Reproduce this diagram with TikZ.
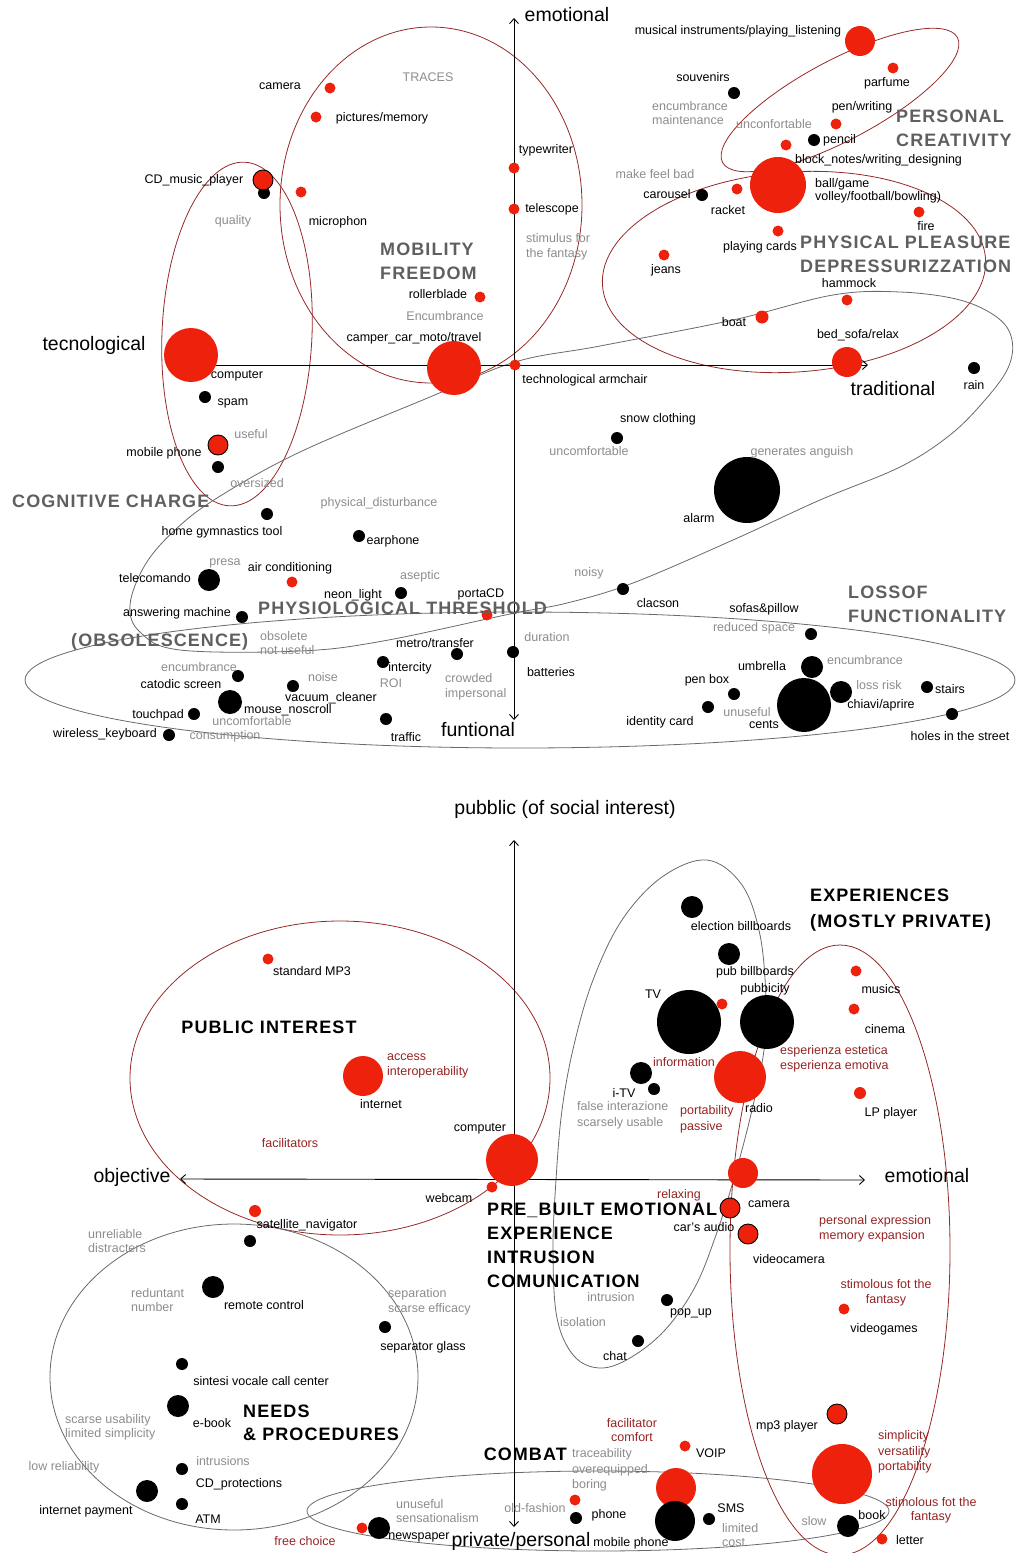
\documentclass[tikz,border=0pt]{standalone}
\usepackage{fontspec}
\setmainfont{Liberation Sans}
\newfontfamily\headfont[LetterSpace=6]{Liberation Sans}
\usetikzlibrary{arrows.meta}

\definecolor{dotred}{RGB}{238,34,12}
\definecolor{linered}{RGB}{150,40,40}
\definecolor{hintred}{RGB}{150,35,35}
\definecolor{notegray}{RGB}{140,140,140}
\definecolor{headgray}{RGB}{95,95,95}
\definecolor{ringgray}{RGB}{105,105,105}

\begin{document}
\begin{tikzpicture}[x=1pt, y=-1pt,
    rd/.style={circle, fill=dotred, inner sep=0pt, minimum size=#1},
    rd/.default=11pt,
    bk/.style={circle, fill=black, inner sep=0pt, minimum size=#1},
    bk/.default=12pt,
    ro/.style={circle, fill=dotred, draw=black, line width=0.9pt, inner sep=0pt, minimum size=#1},
    lbl/.style={inner sep=0pt, font=\fontsize{12.5}{14.5}\selectfont},
    nt/.style={lbl, text=notegray},
    hn/.style={lbl, text=hintred},
    hd/.style={inner sep=0pt, font=\headfont\bfseries\fontsize{18}{24}\selectfont, text=headgray},
    hdb/.style={hd, text=black},
    ax/.style={inner sep=0pt, font=\fontsize{19.5}{22}\selectfont},
    axisline/.style={line width=0.9pt, {Straight Barb[length=5pt,width=9pt]}-{Straight Barb[length=5pt,width=9pt]}},
    zone/.style={linered, line width=0.8pt},
    grayring/.style={ringgray, line width=0.8pt}
  ]
  \useasboundingbox (0,0) rectangle (1017,1553);

  % ---------------- upper map: emotional / funtional ----------------
  % zones
  \draw[zone, rotate around={28:(840,100)}] (840,100) ellipse (133pt and 40pt);
  \draw[zone, rotate around={4:(794,272)}] (794,272) ellipse (192pt and 100pt);
  \draw[zone] (431,205) ellipse (151pt and 178pt);
  \draw[zone, rotate around={-2.5:(237,334)}] (237,334) ellipse (75pt and 172pt);
  \draw[grayring] plot[smooth cycle, tension=0.6] coordinates {
    (217,498) (300,452) (430,397) (515,362) (600,346) (733,320) (833,295)
    (900,292) (960,300) (998,318) (1012,340) (1008,368) (985,400) (950,435)
    (900,467) (820,500) (733,540) (633,583) (567,603) (510,614) (383,641)
    (300,651) (180,650) (140,632) (130,605) (145,565) (175,530)};
  \draw[grayring] (520,680) ellipse (495pt and 68pt);

  % axes
  \coordinate (t-top) at (514,18);
  \coordinate (t-bot) at (514,720);
  \coordinate (t-left) at (190,365);
  \coordinate (t-right) at (868,365);
  \draw[axisline] (t-bot) -- (t-top);
  \draw[axisline] (t-left) -- (t-right);
  \node[ax] (emo-l) at (567,15) {emotional};
  \node[ax] (tec-l) at (94,345) {tecnological};
  \node[ax] (tra-l) at (893,389) {traditional};
  \node[ax] (fun-l) at (478,730) {funtional};

  % personal creativity
  \node[rd=30pt] (musical) at (860,41) {};
  \node[lbl] (musical-l) at (738,31) {musical instruments/playing\_listening};
  \node[rd] (parfume) at (893,68) {};
  \node[lbl] (parfume-l) at (887,83) {parfume};
  \node[bk] (souvenirs) at (734,93) {};
  \node[lbl] (souvenirs-l) at (703,77) {souvenirs};
  \node[nt, align=left, anchor=west] (encumb1) at (652,113) {encumbrance\\maintenance};
  \node[nt] (unconf) at (774,124) {unconfortable};
  \node[rd] (pen) at (836,124) {};
  \node[lbl] (pen-l) at (862,107) {pen/writing};
  \node[bk] (pencil) at (814,140) {};
  \node[lbl, anchor=west] (pencil-l) at (823,140) {pencil};
  \node[rd] (notes) at (786,145) {};
  \node[lbl, anchor=west] (notes-l) at (795,160) {block\_notes/writing\_designing};
  \node[hd, align=left, anchor=west] (creativity) at (896,128) {PERSONAL\\CREATIVITY};

  % physical pleasure
  \node[rd=56pt] (ball) at (778,185) {};
  \node[lbl, align=left, anchor=west, font=\fontsize{12.5}{12.5}\selectfont] (ball-l) at (815,191) {ball/game\\volley/football/bowling)};
  \node[nt] (feelbad) at (655,174) {make feel bad};
  \node[bk] (carousel) at (702,195) {};
  \node[lbl] (carousel-l) at (667,194) {carousel};
  \node[rd] (racket) at (737,189) {};
  \node[lbl] (racket-l) at (728,210) {racket};
  \node[rd] (fire) at (919,212) {};
  \node[lbl] (fire-l) at (926,226) {fire};
  \node[rd] (cards) at (778,231) {};
  \node[lbl] (cards-l) at (760,247) {playing cards};
  \node[rd] (jeans) at (664,255) {};
  \node[lbl] (jeans-l) at (666,270) {jeans};
  \node[rd] (hammock) at (847,300) {};
  \node[lbl] (hammock-l) at (849,283) {hammock};
  \node[rd=13pt] (boat) at (762,317) {};
  \node[lbl] (boat-l) at (734,322) {boat};
  \node[rd=30pt] (bed) at (847,362) {};
  \node[lbl] (bed-l) at (858,335) {bed\_sofa/relax};
  \node[hd, align=left, anchor=west] (pleasure) at (800,254) {PHYSICAL PLEASURE\\DEPRESSURIZZATION};
  \node[bk] (rain) at (974,368) {};
  \node[lbl] (rain-l) at (974,385) {rain};

  % traces, mobility
  \node[rd] (typewriter) at (514,168) {};
  \node[lbl] (typewriter-l) at (546,150) {typewriter};
  \node[rd] (telescope) at (514,209) {};
  \node[lbl] (telescope-l) at (552,209) {telescope};
  \node[nt, align=left, anchor=west] (stimulus) at (526,247) {stimulus for\\the fantasy};
  \node[rd] (camera) at (330,88) {};
  \node[lbl] (camera-l) at (280,86) {camera};
  \node[rd] (pictures) at (316,117) {};
  \node[lbl] (pictures-l) at (382,118) {pictures/memory};
  \node[nt] (traces) at (428,77) {TRACES};
  \node[rd] (microphon) at (301,192) {};
  \node[lbl] (microphon-l) at (338,222) {microphon};
  \node[hd, align=left, anchor=west] (mobility) at (380,261) {MOBILITY\\FREEDOM};
  \node[rd] (roller) at (480,297) {};
  \node[lbl] (roller-l) at (438,294) {rollerblade};
  \node[nt] (encumb2) at (445,316) {Encumbrance};
  \node[rd=54pt] (camper) at (454,368) {};
  \node[lbl] (camper-l) at (414,338) {camper\_car\_moto/travel};
  \node[rd] (armchair) at (515,365) {};
  \node[lbl] (armchair-l) at (585,380) {technological armchair};

  % technological side, cognitive charge
  \node[bk] (cdplayer2) at (264,193) {};
  \node[ro=20pt] (cdplayer) at (263,180) {};
  \node[lbl] (cdplayer-l) at (194,180) {CD\_music\_player};
  \node[nt] (quality) at (233,221) {quality};
  \node[rd=54pt] (computer) at (191,355) {};
  \node[lbl] (computer-l) at (237,376) {computer};
  \node[bk] (spam) at (205,397) {};
  \node[lbl] (spam-l) at (233,403) {spam};
  \node[ro=20pt] (mobile) at (218,445) {};
  \node[bk] (mobile2) at (218,467) {};
  \node[lbl] (mobile-l) at (164,453) {mobile phone};
  \node[nt] (useful) at (251,434) {useful};
  \node[nt] (oversized) at (257,483) {oversized};
  \node[hd, anchor=west] (cognitive) at (12,501) {COGNITIVE CHARGE};

  % physiological threshold
  \node[nt] (disturb) at (379,503) {physical\_disturbance};
  \node[bk] (gym) at (267,514) {};
  \node[lbl] (gym-l) at (222,532) {home gymnastics tool};
  \node[bk] (earphone) at (359,536) {};
  \node[lbl] (earphone-l) at (393,541) {earphone};
  \node[nt] (presa) at (225,563) {presa};
  \node[rd] (aircond) at (292,582) {};
  \node[lbl] (aircond-l) at (290,568) {air conditioning};
  \node[bk=22pt] (telecom) at (209,580) {};
  \node[lbl] (telecom-l) at (155,578) {telecomando};
  \node[nt] (aseptic) at (420,576) {aseptic};
  \node[bk] (neon) at (401,593) {};
  \node[lbl] (neon-l) at (353,595) {neon\_light};
  \node[rd] (portacd) at (487,615) {};
  \node[lbl] (portacd-l) at (481,594) {portaCD};
  \node[bk] (answering) at (242,617) {};
  \node[lbl] (answering-l) at (177,613) {answering machine};
  \node[hd, anchor=west] (threshold) at (258,608) {PHYSIOLOGICAL THRESHOLD};
  \node[nt] (noisy) at (589,573) {noisy};
  \node[bk] (clacson) at (623,589) {};
  \node[lbl] (clacson-l) at (658,603) {clacson};
  \node[bk] (snow) at (617,438) {};
  \node[lbl] (snow-l) at (658,419) {snow clothing};
  \node[nt] (uncomf1) at (589,451) {uncomfortable};
  \node[bk=66pt] (alarm) at (747,490) {};
  \node[lbl] (alarm-l) at (699,518) {alarm};
  \node[nt] (anguish) at (802,452) {generates anguish};

  % obsolescence, loss of functionality
  \node[hd, anchor=west] (obsolescence) at (71,642) {(OBSOLESCENCE)};
  \node[nt, align=left, anchor=west] (obsolete) at (260,643) {obsolete\\not useful};
  \node[bk] (metro) at (457,654) {};
  \node[lbl] (metro-l) at (435,643) {metro/transfer};
  \node[bk] (intercity) at (383,662) {};
  \node[lbl] (intercity-l) at (410,668) {intercity};
  \node[nt] (roi) at (391,683) {ROI};
  \node[nt, align=left, anchor=west] (crowded) at (445,687) {crowded\\impersonal};
  \node[nt] (encumb3) at (199,667) {encumbrance};
  \node[bk] (catodic) at (238,676) {};
  \node[lbl] (catodic-l) at (181,684) {catodic screen};
  \node[nt] (noise) at (323,677) {noise};
  \node[bk] (vacuum) at (293,686) {};
  \node[lbl] (vacuum-l) at (331,698) {vacuum\_cleaner};
  \node[bk=24pt] (mouse) at (230,702) {};
  \node[lbl] (mouse-l) at (288,710) {mouse\_noscroll};
  \node[bk] (touchpad) at (194,714) {};
  \node[lbl] (touchpad-l) at (158,715) {touchpad};
  \node[nt] (uncomf2) at (252,721) {uncomfortable};
  \node[bk] (keyboard) at (169,735) {};
  \node[lbl] (keyboard-l) at (105,734) {wireless\_keyboard};
  \node[nt] (consumption) at (225,736) {consumption};
  \node[bk] (traffic) at (386,719) {};
  \node[lbl] (traffic-l) at (406,737) {traffic};
  \node[nt] (duration) at (547,637) {duration};
  \node[bk] (batteries) at (513,652) {};
  \node[lbl] (batteries-l) at (551,672) {batteries};
  \node[hd, align=left, anchor=west] (loss) at (848,604) {LOSSOF\\FUNCTIONALITY};
  \node[bk] (sofas) at (811,634) {};
  \node[lbl] (sofas-l) at (764,609) {sofas\&pillow};
  \node[nt] (reduced) at (754,628) {reduced space};
  \node[bk=22pt] (umbrella) at (812,667) {};
  \node[lbl] (umbrella-l) at (762,666) {umbrella};
  \node[nt] (encumb4) at (865,660) {encumbrance};
  \node[bk] (penbox) at (734,694) {};
  \node[lbl] (penbox-l) at (707,680) {pen box};
  \node[bk=54pt] (cents) at (804,705) {};
  \node[lbl] (cents-l) at (764,725) {cents};
  \node[bk=22pt] (keys) at (841,692) {};
  \node[lbl] (keys-l) at (881,705) {chiavi/aprire};
  \node[nt] (lossrisk) at (879,685) {loss risk};
  \node[bk] (stairs) at (927,687) {};
  \node[lbl] (stairs-l) at (950,689) {stairs};
  \node[bk] (holes) at (952,714) {};
  \node[lbl] (holes-l) at (960,736) {holes in the street};
  \node[bk] (idcard) at (708,707) {};
  \node[lbl] (idcard-l) at (660,722) {identity card};
  \node[nt] (unuseful1) at (747,712) {unuseful};

  % ---------------- lower map: public / private ----------------
  % zones
  \draw[zone] (340,1078) ellipse (210pt and 157pt);
  \draw[grayring] (234,1377) ellipse (184pt and 153pt);
  \draw[grayring] plot[smooth cycle, tension=0.6] coordinates {
    (707,860) (742,885) (760,935) (766,1000) (764,1050) (752,1110) (735,1175)
    (716,1235) (695,1287) (665,1330) (630,1358) (600,1368) (574,1356)
    (557,1318) (553,1250) (556,1180) (562,1110) (574,1045) (593,980)
    (622,920) (662,877)};
  \draw[zone] (840,1250) ellipse (110pt and 305pt);
  \draw[grayring] (598,1511) ellipse (291pt and 40pt);

  % axes
  \coordinate (b-top) at (514,840);
  \coordinate (b-bot) at (514,1527);
  \coordinate (b-left) at (180,1179);
  \coordinate (b-right) at (865,1180);
  \draw[axisline] (b-bot) -- (b-top);
  \draw[axisline] (b-left) -- (b-right);
  \node[ax] (pub-l) at (565,809) {pubblic (of social interest)};
  \node[ax] (obj-l) at (132,1177) {objective};
  \node[ax] (emo2-l) at (927,1176) {emotional};
  \node[ax] (priv-l) at (521,1541) {private/personal};

  % public interest
  \node[rd] (mp3std) at (268,959) {};
  \node[lbl] (mp3std-l) at (312,971) {standard MP3};
  \node[hdb] (public) at (269,1027) {PUBLIC INTEREST};
  \node[rd=40pt] (internet) at (363,1076) {};
  \node[lbl] (internet-l) at (381,1104) {internet};
  \node[hn, align=left, anchor=west] (access) at (387,1066) {access\\interoperability};
  \node[hn] (facil) at (290,1143) {facilitators};
  \node[rd=52pt] (computer2) at (512,1160) {};
  \node[lbl] (computer2-l) at (480,1129) {computer};
  \node[rd] (webcam) at (492,1187) {};
  \node[lbl] (webcam-l) at (449,1198) {webcam};
  \node[rd=12pt] (satnav) at (255,1211) {};
  \node[lbl] (satnav-l) at (307,1225) {satellite\_navigator};

  % needs and procedures
  \node[nt, align=left, anchor=west] (unreliable) at (88,1241) {unreliable\\distracters};
  \node[bk] (satnav2) at (250,1241) {};
  \node[nt, align=left, anchor=west] (redundant) at (131,1300) {reduntant\\number};
  \node[bk=22pt] (remote) at (213,1287) {};
  \node[lbl] (remote-l) at (264,1305) {remote control};
  \node[nt, align=left, anchor=west] (separation) at (388,1302) {separation\\scarse efficacy};
  \node[bk] (glass) at (385,1327) {};
  \node[lbl] (glass-l) at (423,1347) {separator glass};
  \node[bk] (callcenter) at (182,1364) {};
  \node[lbl] (callcenter-l) at (261,1381) {sintesi vocale call center};
  \node[bk=22pt] (ebook) at (178,1406) {};
  \node[lbl] (ebook-l) at (212,1423) {e-book};
  \node[hdb, align=left, anchor=west, font=\headfont\bfseries\fontsize{18}{23}\selectfont] (needs) at (243,1423) {NEEDS\\\& PROCEDURES};
  \node[nt, align=left, anchor=west] (usability) at (65,1427) {scarse usability\\limited simplicity};
  \node[nt] (lowrel) at (64,1467) {low reliability};
  \node[nt] (intrusions) at (223,1461) {intrusions};
  \node[bk] (cdprot) at (182,1469) {};
  \node[lbl] (cdprot-l) at (239,1484) {CD\_protections};
  \node[bk=22pt] (payment) at (147,1491) {};
  \node[lbl] (payment-l) at (86,1511) {internet payment};
  \node[bk] (atm) at (182,1504) {};
  \node[lbl] (atm-l) at (208,1519) {ATM};
  \node[hn] (freechoice) at (305,1541) {free choice};

  % combat
  \node[rd] (news2) at (362,1528) {};
  \node[bk=22pt] (newspaper) at (379,1528) {};
  \node[lbl] (newspaper-l) at (419,1537) {newspaper};
  \node[nt, align=left, anchor=west] (sensational) at (396,1511) {unuseful\\sensationalism};
  \node[nt] (oldfashion) at (535,1508) {old-fashion};
  \node[rd] (phone2) at (575,1500) {};
  \node[bk] (phone) at (576,1518) {};
  \node[lbl] (phone-l) at (609,1515) {phone};
  \node[hdb, anchor=east] (combat) at (567,1454) {COMBAT};
  \node[nt, align=left, anchor=west, font=\fontsize{12.5}{15.5}\selectfont] (traceability) at (572,1470) {traceability\\overequipped\\boring};
  \node[hn, align=center] (facilitator) at (632,1430) {facilitator\\comfort};
  \node[rd] (voip) at (685,1446) {};
  \node[lbl] (voip-l) at (711,1453) {VOIP};
  \node[rd=40pt] (mobile3) at (676,1488) {};
  \node[bk=40pt] (mobilebk) at (675,1521) {};
  \node[lbl] (mobilebk-l) at (631,1543) {mobile phone};
  \node[bk] (sms) at (709,1519) {};
  \node[lbl] (sms-l) at (731,1508) {SMS};
  \node[nt, align=left, anchor=west] (cost) at (722,1535) {limited\\cost};

  % experiences
  \node[hdb, align=left, anchor=west, font=\headfont\bfseries\fontsize{18}{26}\selectfont] (experiences) at (810,910) {EXPERIENCES\\(MOSTLY PRIVATE)};
  \node[bk=22pt] (election) at (692,907) {};
  \node[lbl] (election-l) at (741,926) {election billboards};
  \node[bk=22pt] (pubbill) at (729,954) {};
  \node[lbl] (pubbill-l) at (755,972) {pub billboards};
  \node[lbl] (pubbicity-l) at (765,989) {pubbicity};
  \node[bk=64pt] (tv) at (689,1022) {};
  \node[lbl] (tv-l) at (653,994) {TV};
  \node[rd] (tvred) at (722,1004) {};
  \node[bk=54pt] (pubbicity) at (767,1022) {};
  \node[rd] (musics) at (856,971) {};
  \node[lbl] (musics-l) at (881,989) {musics};
  \node[rd] (cinema) at (854,1009) {};
  \node[lbl] (cinema-l) at (885,1029) {cinema};
  \node[hn, align=left, anchor=west] (estetica) at (780,1059) {esperienza estetica\\esperienza emotiva};
  \node[hn] (information) at (684,1062) {information};
  \node[rd=52pt] (radio) at (740,1077) {};
  \node[lbl] (radio-l) at (759,1108) {radio};
  \node[bk=22pt] (itv) at (641,1073) {};
  \node[bk] (itv2) at (654,1089) {};
  \node[lbl] (itv-l) at (624,1093) {i-TV};
  \node[nt, align=left, anchor=west, font=\fontsize{12.5}{16}\selectfont] (interazione) at (577,1115) {false interazione\\scarsely usable};
  \node[hn, align=left, anchor=west, font=\fontsize{12.5}{16}\selectfont] (portability) at (680,1119) {portability\\passive};
  \node[rd=12pt] (lp) at (860,1093) {};
  \node[lbl] (lp-l) at (891,1113) {LP player};
  \node[rd=30pt] (camera2) at (743,1173) {};
  \node[lbl] (camera2-l) at (769,1204) {camera};
  \node[hn] (relaxing) at (679,1195) {relaxing};
  \node[ro=20pt] (caraudio) at (730,1208) {};
  \node[lbl] (caraudio-l) at (704,1227) {car's audio};
  \node[ro=20pt] (videocam) at (748,1234) {};
  \node[lbl] (videocam-l) at (789,1259) {videocamera};
  \node[hn, align=left, anchor=west] (expression) at (819,1229) {personal expression\\memory expansion};
  \node[hdb, align=left, anchor=west] (prebuilt) at (487,1245) {PRE\_BUILT EMOTIONAL\\EXPERIENCE\\INTRUSION\\COMUNICATION};
  \node[hn, align=center] (stimolous1) at (886,1293) {stimolous fot the\\fantasy};
  \node[rd] (videogames) at (844,1309) {};
  \node[lbl] (videogames-l) at (884,1329) {videogames};
  \node[nt] (intrusion) at (611,1297) {intrusion};
  \node[bk] (popup) at (667,1300) {};
  \node[lbl] (popup-l) at (691,1313) {pop\_up};
  \node[nt] (isolation) at (583,1322) {isolation};
  \node[bk] (chat) at (638,1341) {};
  \node[lbl] (chat-l) at (615,1356) {chat};
  \node[ro=20pt] (mp3) at (837,1414) {};
  \node[lbl] (mp3-l) at (787,1426) {mp3 player};
  \node[rd=60pt] (mp3big) at (842,1474) {};
  \node[hn, align=left, anchor=west, font=\fontsize{12.5}{15.5}\selectfont] (simplicity) at (878,1452) {simplicity\\versatility\\portability};
  \node[hn, align=center] (stimolous2) at (931,1510) {stimolous fot the\\fantasy};
  \node[nt] (slow) at (814,1521) {slow};
  \node[bk=22pt] (book) at (848,1526) {};
  \node[lbl] (book-l) at (872,1515) {book};
  \node[rd] (letter) at (882,1539) {};
  \node[lbl] (letter-l) at (910,1540) {letter};
\end{tikzpicture}
\end{document}
